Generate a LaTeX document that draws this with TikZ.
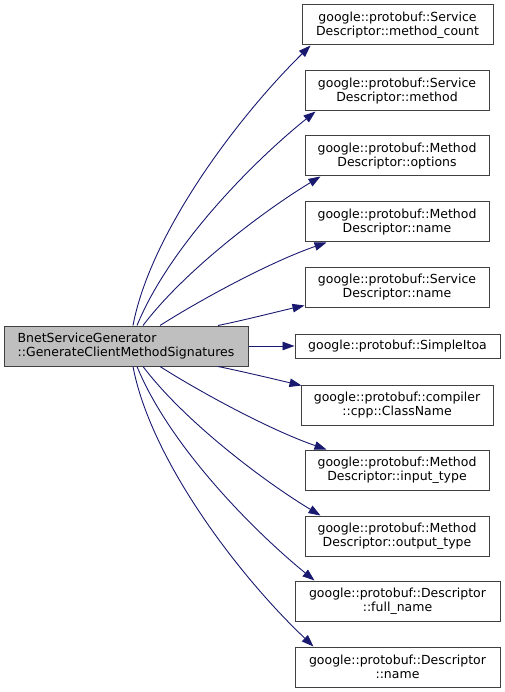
\documentclass[tikz,border=0pt]{standalone}
\usepackage{fontspec}
\setmainfont{DejaVu Sans}
\usetikzlibrary{arrows.meta}
\definecolor{edgeblue}{HTML}{191970}
\definecolor{boxline}{HTML}{404040}
\definecolor{rootfill}{HTML}{BFBFBF}
\begin{document}
\begin{tikzpicture}[x=1pt,y=-1pt,
  box/.style={draw=boxline, line width=1pt, fill=white, inner sep=0pt,
    minimum height=40pt, align=center, font=\fontsize{12.5}{14}\selectfont},
  rootbox/.style={box, fill=rootfill, align=left},
  call/.style={draw=edgeblue, line width=0.9pt, -{Triangle[length=12pt,width=8.5pt]}}]
\useasboundingbox (0,0) rectangle (504,692);

\node[rootbox, minimum width=244pt] (root) at (126,346) {BnetServiceGenerator\\::GenerateClientMethodSignatures};

\node[box, minimum width=191pt] (n1) at (397.5,25) {google::protobuf::Service\\Descriptor::method\_count};
\node[box, minimum width=184pt] (n2) at (397,91) {google::protobuf::Service\\Descriptor::method};
\node[box, minimum width=184pt] (n3) at (397,156) {google::protobuf::Method\\Descriptor::options};
\node[box, minimum width=184pt] (n4) at (397,222) {google::protobuf::Method\\Descriptor::name};
\node[box, minimum width=184pt] (n5) at (397,287) {google::protobuf::Service\\Descriptor::name};
\node[box, minimum width=205pt, minimum height=24pt] (n6) at (397.5,346) {google::protobuf::SimpleItoa};
\node[box, minimum width=192pt] (n7) at (397,405) {google::protobuf::compiler\\::cpp::ClassName};
\node[box, minimum width=184pt] (n8) at (397,470) {google::protobuf::Method\\Descriptor::input\_type};
\node[box, minimum width=184pt] (n9) at (397,536) {google::protobuf::Method\\Descriptor::output\_type};
\node[box, minimum width=205pt] (n10) at (397.5,601) {google::protobuf::Descriptor\\::full\_name};
\node[box, minimum width=205pt] (n11) at (397.5,667) {google::protobuf::Descriptor\\::name};

\draw[call] ([xshift=7pt]root.north) .. controls (150,235) and (235,120) .. ([xshift=9pt]n1.south west);
\draw[call] ([xshift=11pt]root.north) .. controls (170,245) and (255,160) .. ([xshift=11pt]n2.south west);
\draw[call] ([xshift=17pt]root.north) .. controls (185,270) and (265,210) .. ([xshift=16pt]n3.south west);
\draw[call] ([xshift=34pt]root.north) .. controls (200,300) and (270,262) .. ([xshift=22pt]n4.south west);
\draw[call] ([xshift=92pt]root.north) .. controls (245,320) and (280,311) .. ([yshift=2pt]n5.south west);
\draw[call] (root.east) -- (n6.west);
\draw[call] ([xshift=92pt]root.south) .. controls (245,372) and (278,380) .. ([xshift=1pt,yshift=-1pt]n7.north west);
\draw[call] ([xshift=34pt]root.south) .. controls (200,392) and (270,430) .. ([xshift=22pt]n8.north west);
\draw[call] ([xshift=17pt]root.south) .. controls (185,422) and (265,482) .. ([xshift=16pt]n9.north west);
\draw[call] ([xshift=11pt]root.south) .. controls (170,447) and (255,532) .. ([xshift=20pt]n10.north west);
\draw[call] ([xshift=7pt]root.south) .. controls (150,457) and (235,572) .. ([xshift=19pt]n11.north west);
\end{tikzpicture}
\end{document}
